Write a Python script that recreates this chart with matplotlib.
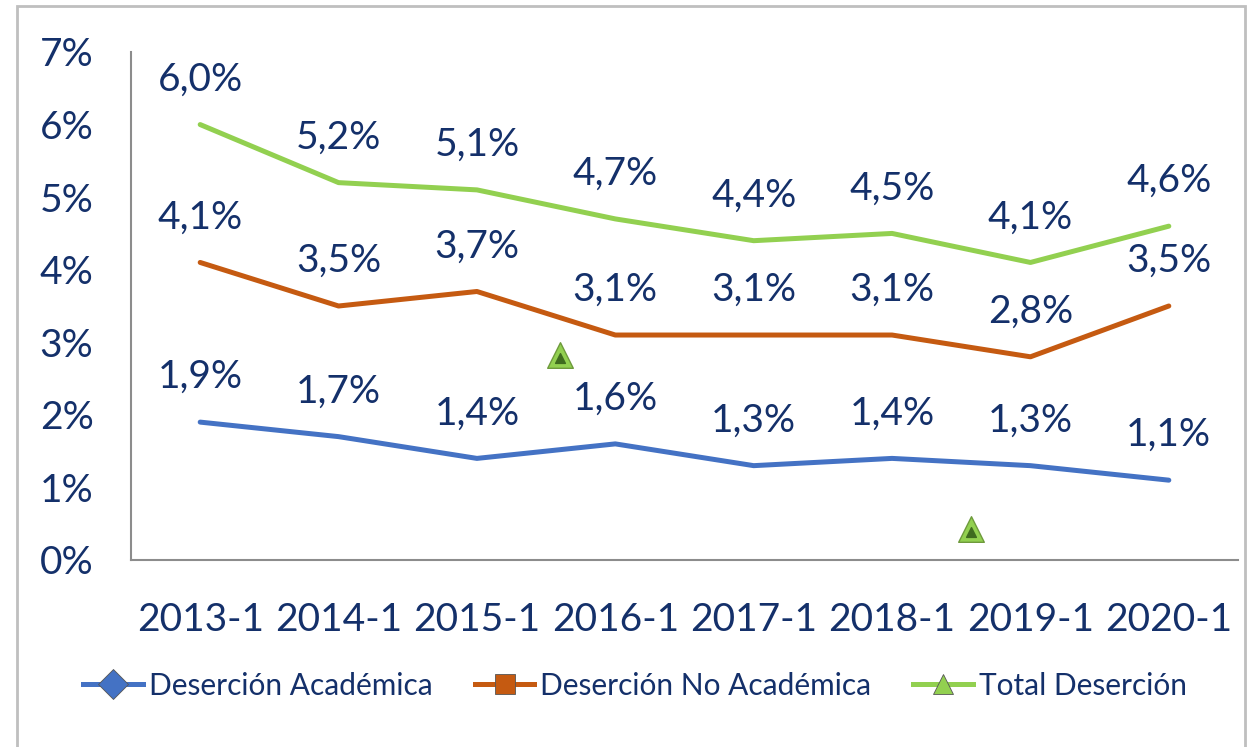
import matplotlib.pyplot as plt
from matplotlib.patches import Rectangle
from matplotlib.lines import Line2D

periodos = ["2013-1", "2014-1", "2015-1", "2016-1", "2017-1", "2018-1", "2019-1", "2020-1"]
desercion_academica = [1.9, 1.7, 1.4, 1.6, 1.3, 1.4, 1.3, 1.1]
desercion_no_academica = [4.1, 3.5, 3.7, 3.1, 3.1, 3.1, 2.8, 3.5]
total_desercion = [6.0, 5.2, 5.1, 4.7, 4.4, 4.5, 4.1, 4.6]
y_ticks = [0, 1, 2, 3, 4, 5, 6, 7]
# marcadores sueltos que aparecen en el grafico original (x en posicion de categoria, y en %)
marcas_sueltas_x = [2.6, 5.57]
marcas_sueltas_y = [2.83, 0.43]

azul = "#4472C4"
naranja = "#C55A11"
verde = "#92D050"
texto = "#14306A"

plt.rcParams['font.family'] = ['Lato', 'DejaVu Sans']

fig = plt.figure(figsize=(12.53, 7.47), dpi=100)
ax = fig.add_axes([131 / 1253, 1 - 560 / 747, (1238 - 131) / 1253, (560 - 52) / 747])

x = list(range(len(periodos)))
series = [
    (desercion_academica, azul, "D", "Deserción Académica"),
    (desercion_no_academica, naranja, "s", "Deserción No Académica"),
    (total_desercion, verde, "^", "Total Deserción"),
]
handles = []
for vals, col, mk, nombre in series:
    ax.plot(x, vals, color=col, lw=3.6, solid_capstyle="round", solid_joinstyle="round")
    for xi, v in zip(x, vals):
        ax.annotate(f"{v:.1f}%".replace(".", ","), (xi, v), xytext=(0, 45),
                    textcoords="offset pixels", ha="center", va="center",
                    fontsize=28, color=texto)
    handles.append(Line2D([], [], color=col, lw=3.6, marker=mk, markersize=15,
                          markerfacecolor=col, markeredgecolor="#555555", markeredgewidth=0.6))

# triangulos verdes sueltos
ax.scatter(marcas_sueltas_x, marcas_sueltas_y, marker="^", s=340, color=verde,
           edgecolors="#6E9A3C", linewidths=1, zorder=5)
ax.scatter(marcas_sueltas_x, [v - 0.04 for v in marcas_sueltas_y], marker="^", s=50,
           color="#3F6B1F", zorder=6)

ax.set_xlim(-0.5, len(periodos) - 0.5)
ax.set_ylim(0, 7)
ax.set_yticks(y_ticks)
ax.set_yticklabels([f"{t}%" for t in y_ticks])
ax.set_xticks(x)
ax.set_xticklabels(periodos)
ax.tick_params(axis="both", length=0, labelsize=28, labelcolor=texto)
ax.tick_params(axis="x", pad=30)
ax.tick_params(axis="y", pad=27)
for s in ["top", "right"]:
    ax.spines[s].set_visible(False)
for s in ["left", "bottom"]:
    ax.spines[s].set_color("#8C8C8C")
    ax.spines[s].set_linewidth(1.5)

fig.legend(handles, [s[3] for s in series], loc="center", bbox_to_anchor=(0.507, 0.082),
           ncol=3, frameon=False, fontsize=21.5, labelcolor=texto, handlelength=2.0,
           handletextpad=0.2, columnspacing=1.4)

fig.patches.append(Rectangle((17 / 1253, -0.1), (1245 - 17) / 1253, 1.1 - 6 / 747,
                             transform=fig.transFigure, fill=False, edgecolor="#BFBFBF", lw=2))

fig.savefig("out.png", dpi=100)
